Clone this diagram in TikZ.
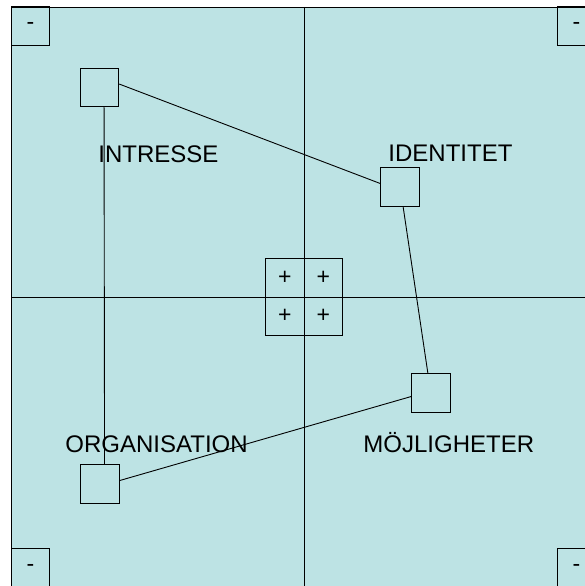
\documentclass[tikz,border=0pt]{standalone}
\usepackage{fontspec}
\setmainfont{Liberation Sans}
\usetikzlibrary{calc}
\definecolor{bgcyan}{RGB}{189,227,228}

\begin{document}
\begin{tikzpicture}[x=1pt, y=-1pt, line width=0.9pt,
    box/.style={draw, minimum size=38.5pt, inner sep=0pt},
    cell/.style={draw, minimum size=38.5pt, inner sep=0pt, font=\fontsize{23}{26}\selectfont},
    corner/.style={draw, minimum size=38.5pt, inner sep=0pt, font=\fontsize{23}{26}\selectfont},
    lbl/.style={anchor=base west, inner sep=0pt, font=\fontsize{24}{28}\selectfont}]
  \useasboundingbox (0,0) rectangle (585,586);
  \clip (0,0) rectangle (585,586);
  \fill[bgcyan] (11,7) rectangle (597,587);
  \draw (11,587) -- (11,7) -- (597,7);

  % axes
  \coordinate (top) at (304,7);
  \coordinate (bot) at (304,587);
  \coordinate (lft) at (11,297);
  \coordinate (rgt) at (597,297);
  \draw (top) -- (bot);
  \draw (lft) -- (rgt);

  % corners
  \node [corner] (c1) at (30.5,26) {-};
  \node [corner] (c2) at (576.5,26) {-};
  \node [corner] (c3) at (30.5,568) {-};
  \node [corner] (c4) at (576.5,568) {-};

  % centre
  \node [cell] (p1) at (284.75,277.75) {+};
  \node [cell] (p2) at (323.25,277.75) {+};
  \node [cell] (p3) at (284.75,316.25) {+};
  \node [cell] (p4) at (323.25,316.25) {+};

  \node [box] (int) at (99.5,87.5) {};
  \node [box] (ide) at (400,187) {};
  \node [box] (moj) at (431,393) {};
  \node [box] (org) at (100,484) {};

  \node [lbl] (tint) at (98,162) {INTRESSE};
  \node [lbl] (tide) at (388,161) {IDENTITET};
  \node [lbl] (tmoj) at (363,452) {MÖJLIGHETER};
  \node [lbl] (torg) at (65,452) {ORGANISATION};

  \draw (int.10) -- (ide.170);
  \draw (ide.-81) -- (moj.99);
  \draw (moj.190) -- (org.10);
  \draw (int.-77) -- (org.77);

\end{tikzpicture}
\end{document}
